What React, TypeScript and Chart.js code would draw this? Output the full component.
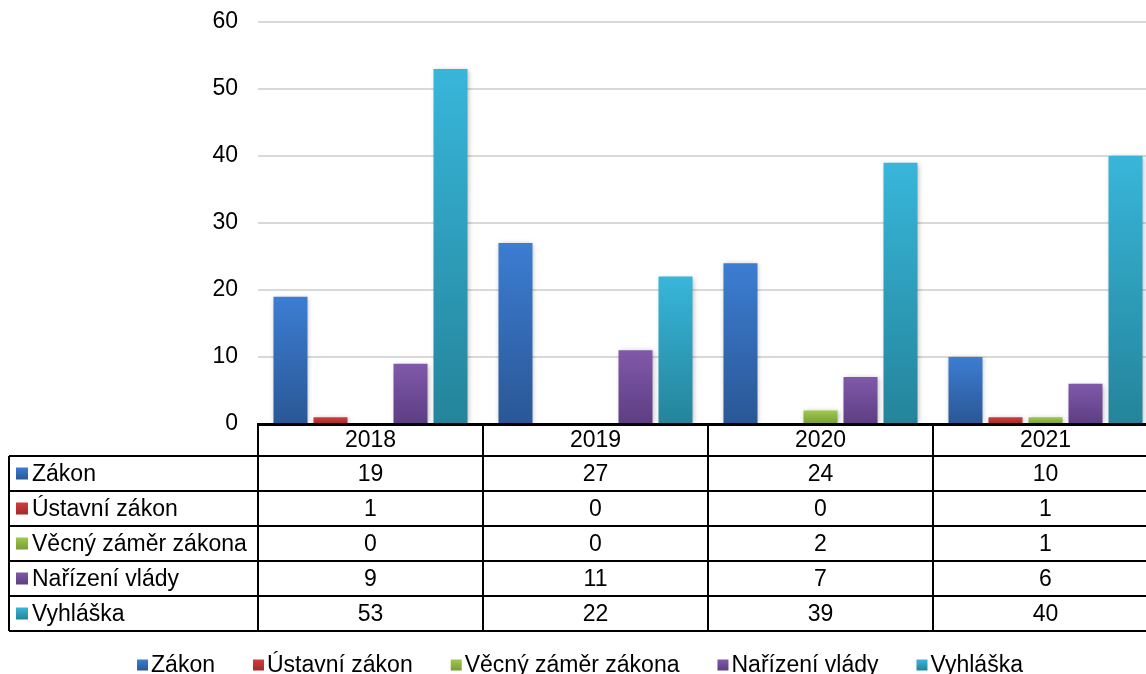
import { useEffect, useRef } from "react";
import { Chart, registerables } from "chart.js";

Chart.register(...registerables);

const years = ["2018", "2019", "2020", "2021"];
const seriesNames = ["Zákon", "Ústavní zákon", "Věcný záměr zákona", "Nařízení vlády", "Vyhláška"];
const zakon = [19, 27, 24, 10];
const ustavniZakon = [1, 0, 0, 1];
const vecnyZamer = [0, 0, 2, 1];
const narizeniVlady = [9, 11, 7, 6];
const vyhlaska = [53, 22, 39, 40];
const yTickValues = [0, 10, 20, 30, 40, 50, 60];

const seriesValues = [zakon, ustavniZakon, vecnyZamer, narizeniVlady, vyhlaska];
const topColors = ["#3c7dd2", "#d13d3b", "#9dca4b", "#8059aa", "#38b6da"];
const bottomColors = ["#2a5795", "#a32a2a", "#7a9c36", "#5d3e82", "#24849a"];

const FONT = '"Liberation Sans", Arial, Helvetica, sans-serif';
const FONT_SIZE = 23;

function barFill(c: any, si: number) {
  const chart = c.chart;
  const y = chart.scales && chart.scales.y;
  if (!y || c.type !== "data") return topColors[si];
  const v = c.parsed && c.parsed.y !== undefined ? c.parsed.y : c.raw;
  const top = y.getPixelForValue(v);
  const base = y.getPixelForValue(0);
  if (!isFinite(top) || !isFinite(base) || base - top < 0.5) return bottomColors[si];
  const g = chart.ctx.createLinearGradient(0, top, 0, base);
  g.addColorStop(0, topColors[si]);
  g.addColorStop(1, bottomColors[si]);
  return g;
}

function drawMarker(ctx: CanvasRenderingContext2D, x: number, yc: number, size: number, si: number) {
  const g = ctx.createLinearGradient(0, yc - size / 2, 0, yc + size / 2);
  g.addColorStop(0, topColors[si]);
  g.addColorStop(1, bottomColors[si]);
  ctx.fillStyle = g;
  ctx.fillRect(x, yc - size / 2, size, size);
}

const shadowPlugin = {
  id: "barShadow",
  beforeDatasetsDraw(chart: any) {
    const ctx = chart.ctx;
    ctx.save();
    ctx.shadowColor = "rgba(0,0,0,0.28)";
    ctx.shadowBlur = 5;
    ctx.shadowOffsetX = 1;
    ctx.shadowOffsetY = 1;
  },
  afterDatasetsDraw(chart: any) {
    chart.ctx.restore();
  },
};

const HEADER_H = 32;
const ROW_H = 35;
const TABLE_LEFT = 9;

const tablePlugin = {
  id: "dataTable",
  afterDraw(chart: any) {
    const ctx: CanvasRenderingContext2D = chart.ctx;
    const ca = chart.chartArea;
    const x = chart.scales.x;
    const n = years.length;
    const cw = (ca.right - ca.left) / n;
    const headerTop = ca.bottom;
    const firstRow = headerTop + HEADER_H;
    const tableBottom = firstRow + ROW_H * seriesNames.length;

    ctx.save();
    ctx.strokeStyle = "#000";
    ctx.lineWidth = 2;
    ctx.beginPath();
    for (let r = 0; r <= seriesNames.length; r++) {
      const yy = firstRow + r * ROW_H;
      ctx.moveTo(TABLE_LEFT, yy);
      ctx.lineTo(ca.right, yy);
    }
    for (let i = 0; i <= n; i++) {
      const xx = ca.left + i * cw;
      ctx.moveTo(xx, headerTop);
      ctx.lineTo(xx, tableBottom);
    }
    ctx.moveTo(TABLE_LEFT, firstRow);
    ctx.lineTo(TABLE_LEFT, tableBottom);
    ctx.stroke();

    ctx.lineWidth = 3;
    ctx.beginPath();
    ctx.moveTo(ca.left - 1, headerTop + 0.5);
    ctx.lineTo(ca.right, headerTop + 0.5);
    ctx.stroke();

    ctx.fillStyle = "#000";
    ctx.font = `${FONT_SIZE}px ${FONT}`;
    ctx.textBaseline = "middle";
    ctx.textAlign = "center";
    for (let i = 0; i < n; i++) {
      const cx = x.getPixelForValue(i);
      ctx.fillText(years[i], cx, headerTop + HEADER_H / 2 + 1);
      for (let s = 0; s < seriesNames.length; s++) {
        ctx.fillText(String(seriesValues[s][i]), cx, firstRow + s * ROW_H + ROW_H / 2 + 1);
      }
    }
    ctx.textAlign = "left";
    for (let s = 0; s < seriesNames.length; s++) {
      const yc = firstRow + s * ROW_H + ROW_H / 2;
      drawMarker(ctx, 16, yc, 12, s);
      ctx.fillStyle = "#000";
      ctx.fillText(seriesNames[s], 32, yc + 1);
    }

    // legend
    const legendY = 665;
    const box = 11;
    const gapBoxText = 3;
    const gapItems = 38;
    const widths = seriesNames.map((t) => box + gapBoxText + ctx.measureText(t).width);
    const total = widths.reduce((a, b) => a + b, 0) + gapItems * (widths.length - 1);
    let lx = 580 - total / 2;
    for (let s = 0; s < seriesNames.length; s++) {
      drawMarker(ctx, lx, legendY, box, s);
      ctx.fillStyle = "#000";
      ctx.fillText(seriesNames[s], lx + box + gapBoxText, legendY + 1);
      lx += widths[s] + gapItems;
    }
    ctx.restore();
  },
};

export default function App() {
  const ref = useRef<HTMLCanvasElement | null>(null);
  useEffect(() => {
    if (!ref.current) return;
    const chart = new Chart(ref.current, {
      type: "bar",
      data: {
        labels: years,
        datasets: seriesNames.map((name, si) => ({
          label: name,
          data: seriesValues[si],
          backgroundColor: (c: any) => barFill(c, si),
          borderWidth: 0,
          categoryPercentage: 0.889,
          barPercentage: 0.85,
        })),
      },
      options: {
        responsive: false,
        animation: false,
        devicePixelRatio: 1,
        layout: { padding: { left: 0, right: 2, top: 22, bottom: 250 } },
        plugins: { legend: { display: false }, tooltip: { enabled: false }, title: { display: false } },
        scales: {
          x: { display: false },
          y: {
            min: 0,
            max: 60,
            afterBuildTicks: (scale: any) => {
              scale.ticks = yTickValues.map((v) => ({ value: v }));
            },
            afterFit: (scale: any) => {
              scale.width = 258;
              scale.paddingTop = 0;
              scale.paddingBottom = 0;
            },
            ticks: {
              color: "#000",
              padding: 20,
              font: { family: FONT, size: FONT_SIZE },
            },
            grid: { color: "#d9d9d9", lineWidth: 2, drawTicks: false },
            border: { display: false },
          },
        },
      },
      plugins: [shadowPlugin, tablePlugin],
    });
    return () => chart.destroy();
  }, []);
  return (
    <div style={{ position: "fixed", left: 0, top: 0, width: 1146, height: 674, overflow: "hidden", background: "#fff" }}>
      <canvas ref={ref} width={1160} height={674} style={{ display: "block", width: 1160, height: 674 }} />
    </div>
  );
}
